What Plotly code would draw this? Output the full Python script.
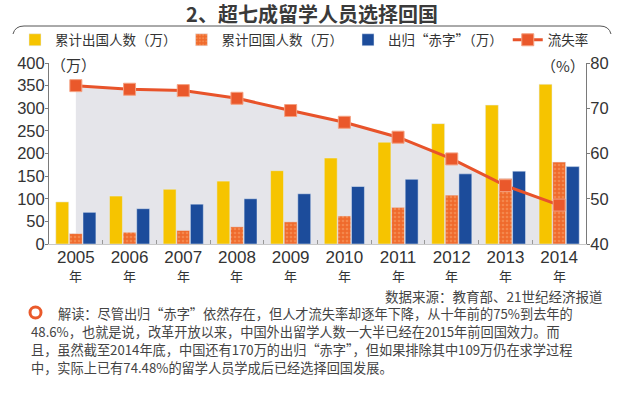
import plotly.graph_objects as go

years = ["2005", "2006", "2007", "2008", "2009", "2010", "2011", "2012", "2013", "2014"]
year_suffix = "年"
outbound = [93, 106, 121, 139, 162, 190, 225, 266, 307, 353]
returned = [23, 26, 30, 38, 49, 62, 81, 108, 145, 181]
deficit = [70, 78, 88, 100, 111, 127, 143, 155, 161, 171]
loss_rate = [75.0, 74.2, 73.9, 72.2, 69.5, 66.9, 63.6, 58.8, 52.9, 48.6]

W, H = 624, 393
ML, MR, MT, MB = 49, 38, 63, 149
PW, PH = W - ML - MR, H - MT - MB


def px(x):
    return (x - ML) / PW


def py(y):
    return (H - MB - y) / PH


CJK = "Noto Sans CJK SC"
NUM = "Liberation Sans, Arial, " + CJK

fig = go.Figure()

# shaded area under the loss-rate line (drawn below the bars)
fig.add_trace(go.Scatter(
    x=years, y=loss_rate, yaxis="y", mode="lines",
    line=dict(width=0, color="rgba(0,0,0,0)"),
    fill="tozeroy", fillcolor="#e5e5ea", showlegend=False, hoverinfo="skip"))

fig.add_trace(go.Bar(
    x=years, y=outbound, yaxis="y2", name="累计出国人数（万）",
    marker=dict(color="#f6c400")))
fig.add_trace(go.Bar(
    x=years, y=returned, yaxis="y2", name="累计回国人数（万）",
    marker=dict(color="#ef6a2c",
                pattern=dict(shape=".", fgcolor="#f9a56e", size=4, solidity=0.35))))
fig.add_trace(go.Bar(
    x=years, y=deficit, yaxis="y2", name="出归“赤字”（万）",
    marker=dict(color="#1c4c9b")))

fig.add_trace(go.Scatter(
    x=years, y=loss_rate, yaxis="y3", name="流失率", mode="lines+markers",
    line=dict(color="#e8532a", width=3),
    marker=dict(symbol="square", size=12, color="#ea582b",
                line=dict(color="#f4a080", width=1))))

axis_common = dict(showgrid=False, zeroline=False, showline=True, linecolor="#7a7a7a",
                   linewidth=1, ticks="outside", ticklen=3, tickcolor="#7a7a7a",
                   ticklabelstandoff=-3, automargin=False,
                   tickfont=dict(family=NUM, size=16.5, color="#333333"))

fig.update_layout(
    width=W, height=H,
    margin=dict(l=ML, r=MR, t=MT, b=MB, pad=0, autoexpand=False),
    paper_bgcolor="white", plot_bgcolor="white",
    barmode="group", bargap=0.24, bargroupgap=0.05,
    title=dict(text="2、超七成留学人员选择回国", x=0.5, xanchor="center", xref="container",
               y=1 - 15 / H, yanchor="middle", yref="container",
               font=dict(family=CJK, size=20, color="#3a3a3a", weight="bold")),
    xaxis=dict(type="category", showgrid=False, showline=True, linecolor="#c8c8c8",
               ticks="inside", tickson="boundaries", ticklen=4, tickcolor="#999999",
               automargin=False, ticklabelstandoff=-2,
               tickfont=dict(family=NUM, size=17, color="#333333"),
               range=[-0.5, 9.5]),
    yaxis=dict(range=[40, 80], dtick=10, side="right", **axis_common),
    yaxis2=dict(range=[0, 400], dtick=50, side="left", overlaying="y", **axis_common),
    yaxis3=dict(range=[40, 80], overlaying="y", visible=False),
    legend=dict(orientation="h", x=px(15), xanchor="left", y=py(40), yanchor="middle",
                font=dict(family=CJK, size=13.5, color="#333333"),
                itemwidth=30, bgcolor="rgba(0,0,0,0)", traceorder="normal"),
    showlegend=True,
)

# "年" under each year label (category index positions)
for i, yr in enumerate(years):
    fig.add_annotation(text=year_suffix, xref="x", yref="paper", x=i, y=py(275.5),
                       xanchor="center", yanchor="middle", showarrow=False,
                       font=dict(family=CJK, size=13, color="#333333"))

# decorative bracket line under the title
fig.add_shape(type="path", xref="paper", yref="paper",
              path=(f"M {px(13)},{py(34)} Q {px(15)},{py(26)} {px(24)},{py(26)} "
                    f"L {px(600)},{py(26)} Q {px(609)},{py(26)} {px(611)},{py(34)}"),
              line=dict(color="#555555", width=1))

# unit labels
fig.add_annotation(text="（万）", xref="paper", yref="paper", x=px(73), y=py(64),
                   xanchor="center", yanchor="middle",
                   showarrow=False, font=dict(family=CJK, size=15, color="#333333"))
fig.add_annotation(text="（%）", xref="paper", yref="paper", x=px(563), y=py(65),
                   xanchor="center", yanchor="middle",
                   showarrow=False, font=dict(family=CJK, size=15, color="#333333"))

# source
fig.add_annotation(text="数据来源：教育部、21世纪经济报道", xref="paper", yref="paper",
                   x=px(605), y=py(296), xanchor="right", yanchor="middle",
                   showarrow=False, font=dict(family=CJK, size=13.5, color="#444444"))

# commentary
fig.add_shape(type="circle", xref="paper", yref="paper",
              x0=px(30), x1=px(41), y0=py(318), y1=py(307),
              line=dict(color="#ea5a2b", width=3), fillcolor="white")
lines = [
    ("解读：尽管出归“赤字”依然存在，但人才流失率却逐年下降，从十年前的75%到去年的", 56, 313),
    ("48.6%，也就是说，改革开放以来，中国外出留学人数一大半已经在2015年前回国效力。而", 29, 331),
    ("且，虽然截至2014年底，中国还有170万的出归“赤字”，但如果排除其中109万仍在求学过程", 29, 349),
    ("中，实际上已有74.48%的留学人员学成后已经选择回国发展。", 29, 367),
]
for txt, lx, ly in lines:
    fig.add_annotation(text=txt, xref="paper", yref="paper", x=px(lx), y=py(ly),
                       xanchor="left", yanchor="middle", showarrow=False,
                       font=dict(family=CJK, size=13.2, color="#444444"))

fig.write_html("out.html", config={"displayModeBar": False},
               post_script="document.body.style.margin='0';document.body.style.overflow='hidden';")
